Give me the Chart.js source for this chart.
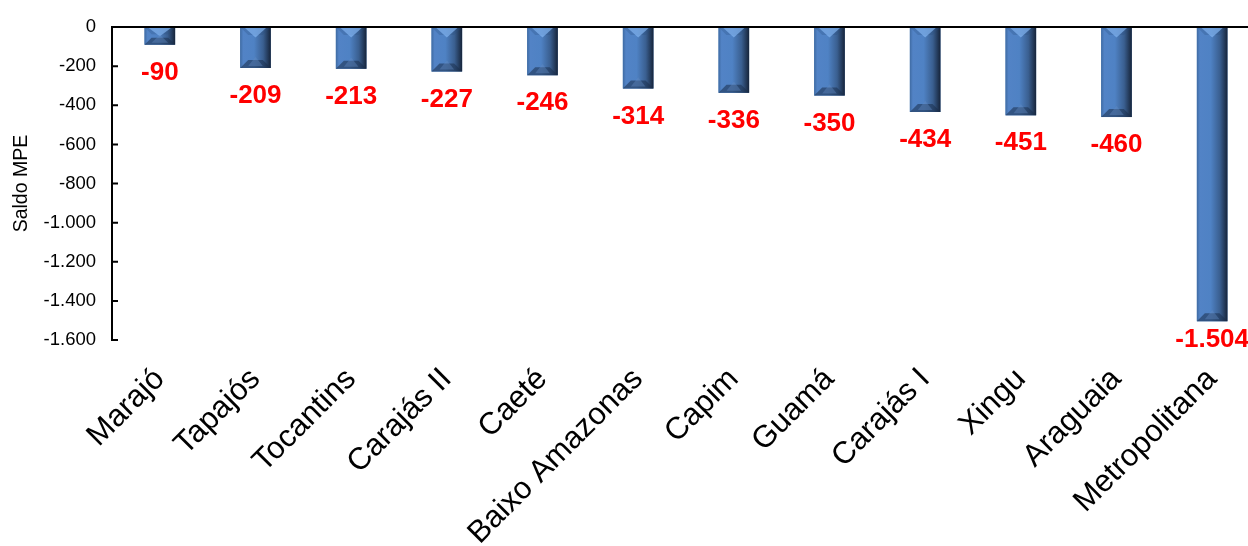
<!DOCTYPE html>
<html>
<head>
<meta charset="utf-8">
<script src="https://cdn.jsdelivr.net/npm/chart.js@4"></script>
<style>
  html, body { margin: 0; padding: 0; background: #fff; }
  #wrap { width: 1248px; height: 546px; }
</style>
</head>
<body>
<div id="wrap"><canvas id="saldoChart" width="1248" height="546"></canvas></div>
<script>
const regioes = ['Marajó', 'Tapajós', 'Tocantins', 'Carajás II', 'Caeté', 'Baixo Amazonas',
    'Capim', 'Guamá', 'Carajás I', 'Xingu', 'Araguaia', 'Metropolitana'];
const saldoMPE = [-90, -209, -213, -227, -246, -314, -336, -350, -434, -451, -460, -1504];
const yMin = -1600;
const yMax = 0;
const yStep = 200;

const FONT = 'Arial, "Liberation Sans", sans-serif';

function formatBR(v) {
    const s = Math.abs(v).toString().replace(/\B(?=(\d{3})+(?!\d))/g, '.');
    return (v < 0 ? '-' : '') + s;
}

// plot area in the original runs a bit past the right edge of the picture
const overflowPlugin = {
    id: 'overflow',
    afterLayout(chart) {
        const extra = 12;
        const x = chart.scales.x;
        chart.chartArea.right += extra;
        chart.chartArea.width += extra;
        x.right += extra;
        x.width += extra;
        x.configure();
        x._labelItems = null;
    }
};

// bevel look + axis lines + red value labels
const bevelPlugin = {
    id: 'bevel',
    afterDatasetsDraw(chart) {
        const ctx = chart.ctx;
        const area = chart.chartArea;
        const meta = chart.getDatasetMeta(0);
        meta.data.forEach(function (bar, i) {
            const x0 = bar.x - bar.width / 2;
            const x1 = bar.x + bar.width / 2;
            const yt = bar.base;
            const yb = bar.y;
            const h = yb - yt;
            const b = Math.min(8, h / 2.5);

            const g = ctx.createLinearGradient(x0, 0, x1, 0);
            g.addColorStop(0, '#3f6ba3');
            g.addColorStop(0.1, '#5283c6');
            g.addColorStop(0.45, '#4f82c4');
            g.addColorStop(0.75, '#3a5f90');
            g.addColorStop(1, '#16243a');
            ctx.save();
            ctx.fillStyle = g;
            ctx.fillRect(x0, yt, x1 - x0, h);

            // top bevel
            ctx.fillStyle = 'rgba(40,75,125,0.25)';
            ctx.beginPath();
            ctx.moveTo(x0, yt); ctx.lineTo(x1, yt); ctx.lineTo(x1 - b, yt + b); ctx.lineTo(x0 + b, yt + b);
            ctx.closePath(); ctx.fill();
            ctx.fillStyle = 'rgba(130,180,240,0.7)';
            ctx.beginPath();
            ctx.moveTo(x0 + b * 0.6, yt + 1); ctx.lineTo(x1 - b * 0.6, yt + 1); ctx.lineTo(bar.x, yt + b * 1.3);
            ctx.closePath(); ctx.fill();

            // bottom bevel
            ctx.fillStyle = 'rgba(25,45,75,0.55)';
            ctx.beginPath();
            ctx.moveTo(x0, yb); ctx.lineTo(x1, yb); ctx.lineTo(x1 - b, yb - b); ctx.lineTo(x0 + b, yb - b);
            ctx.closePath(); ctx.fill();
            ctx.fillStyle = 'rgba(100,140,195,0.4)';
            ctx.beginPath();
            ctx.moveTo(x0 + b, yb - 2); ctx.lineTo(x1 - b, yb - 2); ctx.lineTo(bar.x, yb - b * 1.4);
            ctx.closePath(); ctx.fill();

            // value label
            ctx.fillStyle = '#ff0000';
            ctx.font = 'bold 26px ' + FONT;
            ctx.textAlign = 'center';
            ctx.textBaseline = 'middle';
            const ly = Math.min(yb + 28, area.bottom);
            ctx.fillText(formatBR(saldoMPE[i]), bar.x, ly);
            ctx.restore();
        });

        // zero line and inward tick marks
        const yScale = chart.scales.y;
        ctx.save();
        ctx.strokeStyle = '#000';
        ctx.lineWidth = 2;
        ctx.beginPath();
        ctx.moveTo(area.left, yScale.getPixelForValue(0));
        ctx.lineTo(chart.width, yScale.getPixelForValue(0));
        yScale.ticks.forEach(function (t) {
            const py = yScale.getPixelForValue(t.value);
            ctx.moveTo(area.left, py);
            ctx.lineTo(area.left + 6, py);
        });
        ctx.stroke();
        ctx.restore();
    }
};

new Chart(document.getElementById('saldoChart').getContext('2d'), {
    type: 'bar',
    data: {
        labels: regioes,
        datasets: [{
            label: 'Saldo MPE',
            data: saldoMPE,
            backgroundColor: '#4f81bd',
            borderWidth: 0,
            categoryPercentage: 1,
            barPercentage: 0.32
        }]
    },
    options: {
        responsive: false,
        animation: false,
        layout: { padding: { top: 25, left: 0, right: 0, bottom: 0 } },
        plugins: {
            legend: { display: false },
            tooltip: { enabled: false }
        },
        scales: {
            x: {
                grid: { display: false },
                border: { display: false },
                afterFit: function (scale) { scale.height = 206; },
                ticks: {
                    autoSkip: false,
                    maxRotation: 45,
                    minRotation: 45,
                    padding: 13,
                    color: '#000',
                    font: { family: FONT, size: 31 }
                }
            },
            y: {
                min: yMin,
                max: yMax,
                grid: { display: false, drawTicks: false },
                border: { display: true, color: '#000', width: 2 },
                afterFit: function (scale) { scale.width = 112; },
                title: {
                    display: true,
                    text: 'Saldo MPE',
                    color: '#000',
                    padding: 10,
                    font: { family: FONT, size: 19.5 }
                },
                ticks: {
                    stepSize: yStep,
                    padding: 16,
                    color: '#000',
                    font: { family: FONT, size: 18.5 },
                    callback: function (v) { return formatBR(v); }
                }
            }
        }
    },
    plugins: [overflowPlugin, bevelPlugin]
});
</script>
</body>
</html>
